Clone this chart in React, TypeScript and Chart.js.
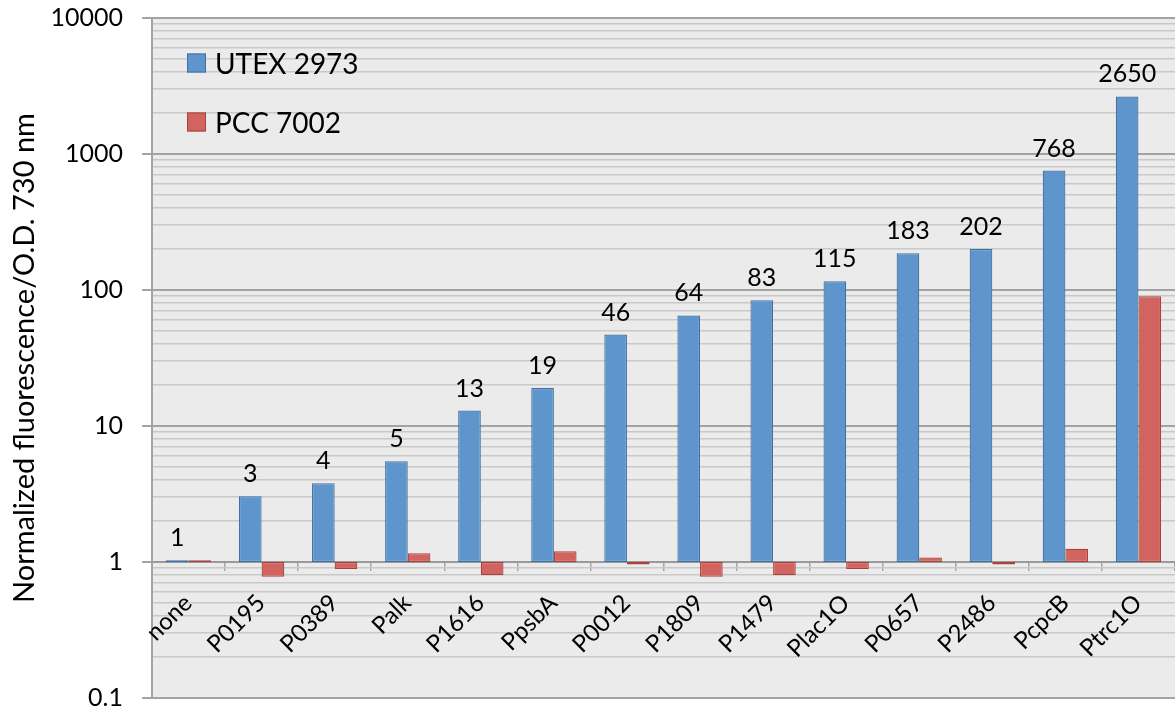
import React, { useEffect, useRef } from "react";
import { Chart, registerables } from "chart.js";

Chart.register(...registerables);

const categories = ["none", "P0195", "P0389", "Palk", "P1616", "PpsbA", "P0012", "P1809", "P1479", "Plac1O", "P0657", "P2486", "PcpcB", "Ptrc1O"];
const utexValues = [1.03, 3.05, 3.8, 5.5, 13, 19, 47, 65, 84, 116, 186, 200, 755, 2650];
const pccValues = [1.03, 0.78, 0.89, 1.16, 0.8, 1.2, 0.96, 0.78, 0.8, 0.89, 1.08, 0.96, 1.25, 90];
const utexLabels = ["1", "3", "4", "5", "13", "19", "46", "64", "83", "115", "183", "202", "768", "2650"];
const seriesNames = ["UTEX 2973", "PCC 7002"];
const yMajorTicks = [0.1, 1, 10, 100, 1000, 10000];
const yTitle = "Normalized fluorescence/O.D. 730 nm";

const FONT = "Lato, 'Open Sans', sans-serif";
const BLUE = "#5e95cc";
const BLUE_BORDER = "#41719f";
const RED = "#d1645f";
const RED_BORDER = "#a9423f";

function buildLogTicks() {
  const out: { value: number; major: boolean }[] = [];
  for (let e = -1; e <= 4; e++) {
    const base = Math.pow(10, e);
    for (let m = 1; m <= 9; m++) {
      const v = parseFloat((m * base).toPrecision(6));
      out.push({ value: v, major: m === 1 });
      if (e === 4) break;
    }
  }
  return out;
}

const isMajor = (v: number) => yMajorTicks.some((t) => Math.abs(t - v) / t < 1e-6);

const labelPlugin = {
  id: "barLabels",
  afterDatasetsDraw(chart: any) {
    const ctx = chart.ctx;
    const meta = chart.getDatasetMeta(0);
    ctx.save();
    ctx.font = `25px ${FONT}`;
    ctx.fillStyle = "#000";
    ctx.textAlign = "center";
    ctx.textBaseline = "alphabetic";
    meta.data.forEach((el: any, i: number) => {
      ctx.fillText(utexLabels[i], el.x, el.y - 14);
    });
    ctx.restore();
  },
};

const categoryLabelPlugin = {
  id: "categoryLabels",
  afterDraw(chart: any) {
    const ctx = chart.ctx;
    const xs = chart.scales.x;
    const ys = chart.scales.y;
    const y0 = ys.getPixelForValue(1);
    ctx.save();
    ctx.font = `24px ${FONT}`;
    ctx.fillStyle = "#000";
    ctx.textAlign = "right";
    ctx.textBaseline = "middle";
    categories.forEach((c, i) => {
      const x = xs.getPixelForValue(i);
      ctx.save();
      ctx.translate(x - 0.5, y0 + 37);
      ctx.rotate(-Math.PI / 4);
      ctx.fillText(c, 0, 0);
      ctx.restore();
    });
    ctx.restore();
  },
};

const legendPlugin = {
  id: "innerLegend",
  afterDraw(chart: any) {
    const ctx = chart.ctx;
    const items = [
      { name: seriesNames[0], fill: BLUE, border: BLUE_BORDER, y: 63 },
      { name: seriesNames[1], fill: RED, border: RED_BORDER, y: 122 },
    ];
    ctx.save();
    ctx.font = `28px ${FONT}`;
    ctx.textBaseline = "middle";
    ctx.textAlign = "left";
    items.forEach((it) => {
      ctx.fillStyle = it.fill;
      ctx.strokeStyle = it.border;
      ctx.lineWidth = 1;
      ctx.fillRect(187, it.y - 9.5, 19, 19);
      ctx.strokeRect(187.5, it.y - 9, 18, 18);
      ctx.fillStyle = "#000";
      ctx.fillText(it.name, 215, it.y + 2);
    });
    ctx.restore();
  },
};

const bgPlugin = {
  id: "plotBg",
  beforeDraw(chart: any) {
    const { ctx, chartArea } = chart;
    ctx.save();
    ctx.fillStyle = "#ebebeb";
    ctx.fillRect(chartArea.left, chartArea.top, chartArea.right - chartArea.left, chartArea.bottom - chartArea.top);
    ctx.restore();
  },
};

export default function App() {
  const ref = useRef<HTMLCanvasElement | null>(null);

  useEffect(() => {
    document.body.style.margin = "0";
    if (!ref.current) return;
    const chart = new Chart(ref.current, {
      type: "bar",
      data: {
        labels: categories,
        datasets: [
          {
            label: seriesNames[0],
            data: utexValues.map((v) => [1, v]) as any,
            backgroundColor: BLUE,
            borderColor: BLUE_BORDER,
            borderWidth: 1.2,
            borderSkipped: false,
          },
          {
            label: seriesNames[1],
            data: pccValues.map((v) => [1, v]) as any,
            backgroundColor: RED,
            borderColor: RED_BORDER,
            borderWidth: 1.2,
            borderSkipped: false,
          },
        ],
      },
      options: {
        animation: false,
        responsive: false,
        maintainAspectRatio: false,
        layout: { padding: { top: 18, bottom: 17, right: -5, left: 0 } },
        datasets: { bar: { categoryPercentage: 0.62, barPercentage: 1 } },
        plugins: {
          legend: { display: false },
          tooltip: { enabled: false },
        },
        scales: {
          x: {
            position: { y: 1 } as any,
            afterFit: (s: any) => {
              s.height = 0;
              s.paddingLeft = 0;
              s.paddingRight = 0;
            },
            grid: {
              display: true,
              drawOnChartArea: false,
              offset: true,
              tickLength: 8,
              color: "#a6a6a6",
              lineWidth: 1.5,
            },
            border: { display: true, color: "#9a9a9a", width: 2 },
            ticks: {
              display: false,
              autoSkip: false,
            },
          },
          y: {
            type: "logarithmic",
            min: 0.1,
            max: 10000,
            afterBuildTicks: (s: any) => {
              s.ticks = buildLogTicks();
            },
            afterFit: (s: any) => {
              s.width = 152;
              s.paddingTop = 0;
              s.paddingBottom = 0;
            },
            grid: {
              color: (c: any) => (c.tick && isMajor(c.tick.value) ? "#a3a3a3" : "#c9c9c9"),
              lineWidth: (c: any) => (c.tick && isMajor(c.tick.value) ? 2 : 1.5),
              tickColor: (c: any) => (c.tick && isMajor(c.tick.value) ? "#a3a3a3" : "rgba(0,0,0,0)"),
              tickLength: 10,
            },
            border: { display: true, color: "#a3a3a3", width: 2 },
            ticks: {
              font: { family: FONT, size: 25 },
              color: "#000",
              padding: 19,
              autoSkip: false,
              callback: (v: any) => (isMajor(Number(v)) ? String(Number(v)) : ""),
            },
            title: {
              display: true,
              text: yTitle,
              font: { family: FONT, size: 29 },
              color: "#000",
              padding: { top: 7, bottom: 0 },
            },
          },
        },
      },
      plugins: [bgPlugin, labelPlugin, categoryLabelPlugin, legendPlugin],
    });
    return () => chart.destroy();
  }, []);

  return (
    <div style={{ width: 1175, height: 715 }}>
      <canvas ref={ref} width={1175} height={715} style={{ width: 1175, height: 715, display: "block" }} />
    </div>
  );
}
